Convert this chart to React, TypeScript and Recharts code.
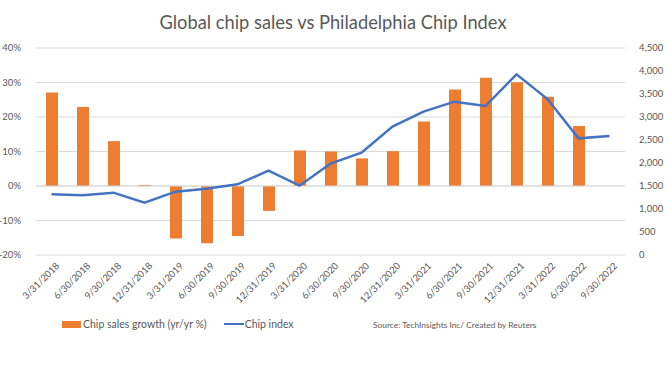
import React from 'react';
import { ComposedChart, Bar, Line, XAxis, YAxis, CartesianGrid, ReferenceLine } from 'recharts';

const categories = ['3/31/2018', '6/30/2018', '9/30/2018', '12/31/2018', '3/31/2019', '6/30/2019', '9/30/2019', '12/31/2019', '3/31/2020', '6/30/2020', '9/30/2020', '12/31/2020', '3/31/2021', '6/30/2021', '9/30/2021', '12/31/2021', '3/31/2022', '6/30/2022', '9/30/2022'];
const salesGrowth: (number | null)[] = [27.1, 22.9, 13.0, 0.3, -15.2, -16.6, -14.5, -7.2, 10.3, 10.0, 8.0, 10.1, 18.7, 28.0, 31.4, 30.1, 25.9, 17.4, null];
const chipIndex = [1320, 1298, 1355, 1138, 1377, 1442, 1536, 1833, 1507, 1985, 2225, 2790, 3116, 3333, 3239, 3928, 3391, 2536, 2587];
const leftTicks = [-20, -10, 0, 10, 20, 30, 40];
const rightTicks = [0, 500, 1000, 1500, 2000, 2500, 3000, 3500, 4000, 4500];

const data = categories.map((c, i) => ({ date: c, growth: salesGrowth[i], index: chipIndex[i] }));

const FONT = 'Lato, "Open Sans", sans-serif';
const GREY = '#595959';

const XTick = (props: any) => {
  const { x, y, payload } = props;
  return (
    <g transform={`translate(${x + 6},${y + 9})`}>
      <text transform="rotate(-45)" textAnchor="end" dominantBaseline="central" fontSize={9.5} fill={GREY} fontFamily={FONT}>
        {payload.value}
      </text>
    </g>
  );
};

export default function App() {
  return (
    <div style={{ position: 'absolute', left: 0, top: 0, width: 670, height: 373, background: '#fff', fontFamily: FONT }}>
      <div style={{ position: 'absolute', left: 0, width: 666, top: 11, textAlign: 'center', fontSize: 18.3, lineHeight: '22px', color: GREY, whiteSpace: 'nowrap' }}>
        Global chip sales vs Philadelphia Chip Index
      </div>
      <ComposedChart width={670} height={373} data={data} margin={{ top: 48, right: 0, bottom: 58, left: 0 }}>
        <CartesianGrid yAxisId="left" vertical={false} stroke="#d9d9d9" />
        <XAxis dataKey="date" interval={0} tickLine={false} axisLine={false} tickSize={0} tickMargin={0} height={60} tick={<XTick />} />
        <YAxis yAxisId="left" orientation="left" width={36} domain={[-20, 40]} ticks={leftTicks} interval={0}
          tickFormatter={(v: number) => `${v}%`} tickLine={false} axisLine={false} tickMargin={9}
          tick={{ fontSize: 9.5, fill: GREY, fontFamily: FONT }} />
        <YAxis yAxisId="right" orientation="right" width={45} domain={[0, 4500]} ticks={rightTicks} interval={0}
          tickFormatter={(v: number) => v.toLocaleString('en-US')} tickLine={false} axisLine={false} tickMargin={8}
          tick={{ fontSize: 9.5, fill: GREY, fontFamily: FONT, textAnchor: 'start' }} />
        <ReferenceLine yAxisId="left" y={0} stroke="#d9d9d9" />
        <Bar yAxisId="left" dataKey="growth" fill="#ED7D31" barSize={12} isAnimationActive={false} />
        <Line yAxisId="right" dataKey="index" type="linear" stroke="#4472C4" strokeWidth={2.5} dot={false} isAnimationActive={false} />
      </ComposedChart>
      <div style={{ position: 'absolute', left: 62, top: 318, display: 'flex', alignItems: 'center', fontSize: 10.5, color: GREY, whiteSpace: 'nowrap' }}>
        <span style={{ display: 'inline-block', width: 19, height: 7, background: '#ED7D31', marginRight: 2 }} />
        <span>Chip sales growth (yr/yr %)</span>
        <span style={{ display: 'inline-block', width: 20, height: 2, background: '#4472C4', marginLeft: 17, marginRight: 1 }} />
        <span>Chip index</span>
      </div>
      <div style={{ position: 'absolute', left: 373, top: 320, fontSize: 8.4, color: GREY, whiteSpace: 'nowrap' }}>
        Source: TechInsights Inc/ Created by Reuters
      </div>
    </div>
  );
}
